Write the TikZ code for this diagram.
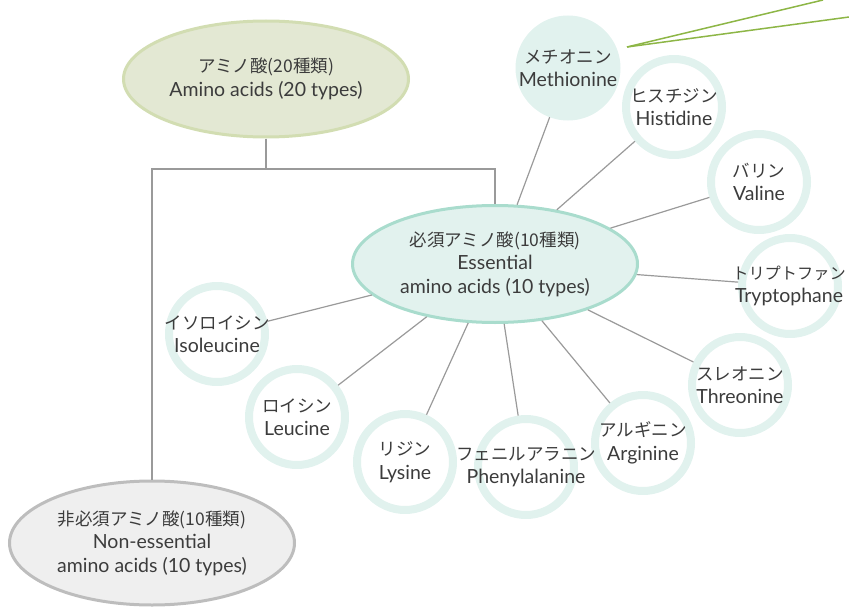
\documentclass[tikz,border=0pt]{standalone}
\usepackage{fontspec}
\setmainfont{Lato}
\newfontfamily\jp{Noto Sans CJK JP}
\newcommand\jtext[1]{{\jp\fontsize{17.5}{23.5}\selectfont #1}}
\newcommand\jsmall[1]{{\jp\fontsize{16.2}{23.5}\selectfont #1}}
\usetikzlibrary{shapes.geometric}
\definecolor{txt}{HTML}{3C3C3C}
\definecolor{ring}{HTML}{E1F2EE}
\definecolor{essfill}{HTML}{E2F2EE}
\definecolor{essline}{HTML}{A9DCCD}
\definecolor{topfill}{HTML}{E3E8D3}
\definecolor{topline}{HTML}{D2DDB2}
\definecolor{botfill}{HTML}{EFEFEF}
\definecolor{botline}{HTML}{BDBDBD}
\definecolor{conn}{HTML}{9A9A9A}
\definecolor{leaf}{HTML}{8DB646}
\tikzset{
  big/.style={ellipse, line width=3pt, outer sep=1.5pt, inner sep=0pt, align=center,
    text=txt, font=\fontsize{19.5}{23.5}\selectfont, minimum width=285pt},
  amino/.style={circle, draw=ring, line width=8pt, fill=white, minimum size=96pt,
    inner sep=0pt, outer sep=4pt},
  aminofill/.style={circle, draw=ring, fill=ring, line width=1pt, minimum size=104pt,
    inner sep=0pt, outer sep=0.5pt},
  lbl/.style={align=center, text=txt, font=\fontsize{19.5}{23.5}\selectfont, inner sep=0pt},
  link/.style={draw=conn, line width=1.2pt},
  greenline/.style={draw=leaf, line width=1.5pt}
}
\begin{document}
\begin{tikzpicture}[x=1pt,y=-1pt]
\useasboundingbox (0,0) rectangle (849,610);
% main ellipses
\node[big, draw=topline, fill=topfill, minimum height=116pt] (top) at (266,79)
  {\jtext{アミノ酸(20種類)}\\Amino acids (20 types)};
\node[big, draw=essline, fill=essfill, minimum height=117pt] (ess) at (495,264)
  {\jtext{必須アミノ酸(10種類)}\\Essential\\amino acids (10 types)};
\node[big, draw=botline, fill=botfill, minimum height=124pt] (non) at (152,543)
  {\jtext{非必須アミノ酸(10種類)}\\Non-essential\\amino acids (10 types)};
% tree
\coordinate (j) at (266,169);
\draw[link] (top.south) -- (j);
\draw[link] (j) -| (non.north);
\draw[link] (j) -| (ess.north);
% amino acid circles
\node[aminofill] (met) at (568,68) {};
\node[amino] (his) at (674,107) {};
\node[amino] (val) at (759,182) {};
\node[amino] (trp) at (790,286) {};
\node[amino] (thr) at (740,385) {};
\node[amino] (arg) at (643,443) {};
\node[amino] (phe) at (526,467) {};
\node[amino] (lys) at (405,462) {};
\node[amino] (leu) at (297,417) {};
\node[amino] (ile) at (217,334) {};
% labels
\node[lbl] at (met) {\jtext{メチオニン}\\Methionine};
\node[lbl] at (his) {\jtext{ヒスチジン}\\Histidine};
\node[lbl] at (val) {\jtext{バリン}\\Valine};
\node[lbl] at ([xshift=-1pt]trp) {\jsmall{トリプトファン}\\Tryptophane};
\node[lbl] at (thr) {\jtext{スレオニン}\\Threonine};
\node[lbl] at (arg) {\jtext{アルギニン}\\Arginine};
\node[lbl] at (phe) {\jtext{フェニルアラニン}\\Phenylalanine};
\node[lbl] at (lys) {\jtext{リジン}\\Lysine};
\node[lbl] at (leu) {\jtext{ロイシン}\\Leucine};
\node[lbl] at (ile) {\jtext{イソロイシン}\\Isoleucine};
% connectors
\foreach \n in {met,his,val,trp,thr,arg,phe,lys,leu,ile}
  \draw[link] (ess) -- (\n);
% green lines
\coordinate (g) at (627,47);
\coordinate (g1) at (823,0);
\coordinate (g2) at (849,17);
\draw[greenline] (g) -- (g1);
\draw[greenline] (g) -- (g2);
\end{tikzpicture}
\end{document}
